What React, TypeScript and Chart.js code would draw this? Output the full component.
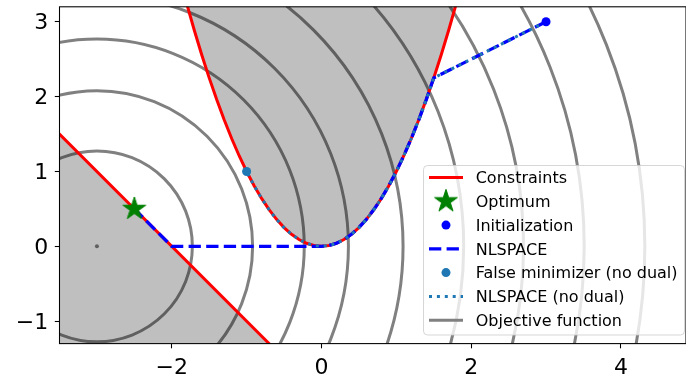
import React, { useEffect, useRef } from 'react';
import { Chart, registerables } from 'chart.js';

Chart.register(...registerables);

// ---- data ----
const parabolaX = [-1.8, -1.7, -1.6, -1.5, -1.4, -1.3, -1.2, -1.1, -1.0, -0.9, -0.8, -0.7, -0.6, -0.5, -0.4, -0.3, -0.2, -0.1, 0, 0.1, 0.2, 0.3, 0.4, 0.5, 0.6, 0.7, 0.8, 0.9, 1.0, 1.1, 1.2, 1.3, 1.4, 1.5, 1.6, 1.7, 1.8];
const parabolaY = [3.24, 2.89, 2.56, 2.25, 1.96, 1.69, 1.44, 1.21, 1.0, 0.81, 0.64, 0.49, 0.36, 0.25, 0.16, 0.09, 0.04, 0.01, 0, 0.01, 0.04, 0.09, 0.16, 0.25, 0.36, 0.49, 0.64, 0.81, 1.0, 1.21, 1.44, 1.69, 1.96, 2.25, 2.56, 2.89, 3.24];

const lineX = [-3.6, -0.6];
const lineY = [1.6, -1.4];

const nlspaceX = [3, 1.5, 1.4, 1.3, 1.2, 1.1, 1.0, 0.9, 0.8, 0.7, 0.6, 0.5, 0.4, 0.3, 0.2, 0.1, 0, -2, -2.5];
const nlspaceY = [3, 2.25, 1.96, 1.69, 1.44, 1.21, 1.0, 0.81, 0.64, 0.49, 0.36, 0.25, 0.16, 0.09, 0.04, 0.01, 0, 0, 0.5];

const noDualX = [3, 1.5, 1.4, 1.3, 1.2, 1.1, 1.0, 0.9, 0.8, 0.7, 0.6, 0.5, 0.4, 0.3, 0.2, 0.1, 0, -0.1, -0.2, -0.3, -0.4, -0.5, -0.6, -0.7, -0.8, -0.9, -1.0];
const noDualY = [3, 2.25, 1.96, 1.69, 1.44, 1.21, 1.0, 0.81, 0.64, 0.49, 0.36, 0.25, 0.16, 0.09, 0.04, 0.01, 0, 0.01, 0.04, 0.09, 0.16, 0.25, 0.36, 0.49, 0.64, 0.81, 1.0];

const optimumPoint = [-2.5, 0.5];
const initPoint = [3, 3];
const falseMinPoint = [-1, 1];
const objectiveCenter = [-3, 0];
const objectiveRadii = [1.275, 2.08, 2.77, 3.36, 4.09, 4.9, 5.7, 6.51, 7.32];

const xTicks = [-2, 0, 2, 4];
const yTicks = [-1, 0, 1, 2, 3];

const legendLabels = [
  'Constraints',
  'Optimum',
  'Initialization',
  'NLSPACE',
  'False minimizer (no dual)',
  'NLSPACE (no dual)',
  'Objective function',
];

const RED = '#ff0000';
const BLUE = '#0000ff';
const STEEL = '#1f77b4';
const GREEN = '#008000';
const GRAY = '#808080';
const SHADE = 'rgba(0,0,0,0.25)';
const FONT = '"DejaVu Sans", "Liberation Sans", sans-serif';

const pts = (xs: number[], ys: number[]) => xs.map((x, i) => ({ x, y: ys[i] }));

function makeStar(R: number, color: string) {
  const size = Math.ceil(R * 2 + 2);
  const c = document.createElement('canvas');
  c.width = size;
  c.height = size;
  const g = c.getContext('2d')!;
  const cx = size / 2;
  const cy = size / 2;
  const r = R * 0.381966;
  g.beginPath();
  for (let i = 0; i < 10; i++) {
    const rad = i % 2 === 0 ? R : r;
    const ang = -Math.PI / 2 + (i * Math.PI) / 5;
    const px = cx + rad * Math.cos(ang);
    const py = cy + rad * Math.sin(ang);
    if (i === 0) g.moveTo(px, py);
    else g.lineTo(px, py);
  }
  g.closePath();
  g.fillStyle = color;
  g.fill();
  g.strokeStyle = color;
  g.lineWidth = 1;
  g.stroke();
  return c;
}

const fmt = (v: number) => (v < 0 ? '\u2212' + Math.abs(v) : String(v));

export default function App() {
  const ref = useRef<HTMLCanvasElement | null>(null);

  useEffect(() => {
    document.body.style.margin = '0';
    const canvas = ref.current;
    if (!canvas) return;
    const star = makeStar(12, GREEN);

    const contourPlugin = {
      id: 'contours',
      beforeDatasetsDraw(chart: any) {
        const { ctx, chartArea: a } = chart;
        const xs = chart.scales.x;
        const ys = chart.scales.y;
        ctx.save();
        ctx.beginPath();
        ctx.rect(a.left, a.top, a.right - a.left, a.bottom - a.top);
        ctx.clip();
        const cx = xs.getPixelForValue(objectiveCenter[0]);
        const cy = ys.getPixelForValue(objectiveCenter[1]);
        ctx.strokeStyle = GRAY;
        ctx.lineWidth = 3;
        for (const r of objectiveRadii) {
          const rx = Math.abs(xs.getPixelForValue(objectiveCenter[0] + r) - cx);
          const ry = Math.abs(ys.getPixelForValue(objectiveCenter[1] + r) - cy);
          ctx.beginPath();
          ctx.ellipse(cx, cy, rx, ry, 0, 0, Math.PI * 2);
          ctx.stroke();
        }
        ctx.restore();
      },
    };

    const framePlugin = {
      id: 'frame',
      afterDatasetsDraw(chart: any) {
        const { ctx, chartArea: a } = chart;
        ctx.save();
        ctx.strokeStyle = '#000';
        ctx.lineWidth = 1.07;
        ctx.strokeRect(a.left, a.top, a.right - a.left, a.bottom - a.top);
        ctx.restore();
      },
    };

    const legendPlugin = {
      id: 'customLegend',
      afterDraw(chart: any) {
        const { ctx } = chart;
        const bx = 423.5, by = 165.5, bw = 261, bh = 169.5, br = 4;
        ctx.save();
        ctx.beginPath();
        ctx.moveTo(bx + br, by);
        ctx.lineTo(bx + bw - br, by);
        ctx.arcTo(bx + bw, by, bx + bw, by + br, br);
        ctx.lineTo(bx + bw, by + bh - br);
        ctx.arcTo(bx + bw, by + bh, bx + bw - br, by + bh, br);
        ctx.lineTo(bx + br, by + bh);
        ctx.arcTo(bx, by + bh, bx, by + bh - br, br);
        ctx.lineTo(bx, by + br);
        ctx.arcTo(bx, by, bx + br, by, br);
        ctx.closePath();
        ctx.fillStyle = 'rgba(255,255,255,0.8)';
        ctx.fill();
        ctx.strokeStyle = 'rgba(204,204,204,0.8)';
        ctx.lineWidth = 1;
        ctx.stroke();

        const x0 = 429, x1 = 463, xm = 446, xt = 475.7;
        const rowY = (i: number) => 177.5 + i * 23.78;
        const line = (i: number, color: string, w: number, dash: number[]) => {
          ctx.save();
          ctx.strokeStyle = color;
          ctx.lineWidth = w;
          ctx.lineCap = 'butt';
          ctx.setLineDash(dash);
          ctx.beginPath();
          ctx.moveTo(x0, rowY(i));
          ctx.lineTo(x1, rowY(i));
          ctx.stroke();
          ctx.restore();
        };
        const dot = (i: number, color: string, r: number) => {
          ctx.beginPath();
          ctx.arc(xm, rowY(i), r, 0, Math.PI * 2);
          ctx.fillStyle = color;
          ctx.fill();
        };
        line(0, RED, 3, []);
        ctx.drawImage(star, xm - star.width / 2, rowY(1) - star.height / 2);
        dot(2, BLUE, 4.5);
        line(3, BLUE, 3.3, [12.3, 5.3]);
        dot(4, STEEL, 4.5);
        line(5, STEEL, 3, [3, 4.9]);
        line(6, GRAY, 3, []);

        ctx.fillStyle = '#000';
        ctx.font = '16px ' + FONT;
        ctx.textAlign = 'left';
        ctx.textBaseline = 'alphabetic';
        legendLabels.forEach((t, i) => ctx.fillText(t, xt, rowY(i) + 5.8));
        ctx.restore();
      },
    };

    const chart = new Chart(canvas, {
      type: 'scatter',
      data: {
        datasets: [
          {
            label: 'Optimum',
            data: [{ x: optimumPoint[0], y: optimumPoint[1] }],
            pointStyle: star as any,
            pointRadius: 12,
            showLine: false,
            order: 1,
            clip: 0,
          },
          {
            label: 'Initialization',
            data: [{ x: initPoint[0], y: initPoint[1] }],
            pointRadius: 4.5,
            pointBackgroundColor: BLUE,
            pointBorderWidth: 0,
            showLine: false,
            order: 1,
            clip: 0,
          },
          {
            label: 'False minimizer (no dual)',
            data: [{ x: falseMinPoint[0], y: falseMinPoint[1] }],
            pointRadius: 4.5,
            pointBackgroundColor: STEEL,
            pointBorderWidth: 0,
            showLine: false,
            order: 1,
            clip: 0,
          },
          {
            label: 'NLSPACE (no dual)',
            data: pts(noDualX, noDualY),
            showLine: true,
            borderColor: STEEL,
            borderWidth: 3,
            borderDash: [3, 4.9],
            pointRadius: 0,
            tension: 0,
            fill: false,
            order: 2,
            clip: 0,
          },
          {
            label: 'NLSPACE',
            data: pts(nlspaceX, nlspaceY),
            showLine: true,
            borderColor: BLUE,
            borderWidth: 3.3,
            borderDash: [12.3, 5.3],
            pointRadius: 0,
            tension: 0,
            fill: false,
            order: 3,
            clip: 0,
          },
          {
            label: 'Constraints',
            data: pts(parabolaX, parabolaY),
            showLine: true,
            borderColor: RED,
            borderWidth: 3,
            backgroundColor: SHADE,
            pointRadius: 0,
            tension: 0,
            fill: 'end',
            order: 5,
            clip: 0,
          },
          {
            label: 'Constraint line',
            data: pts(lineX, lineY),
            showLine: true,
            borderColor: RED,
            borderWidth: 3,
            backgroundColor: SHADE,
            pointRadius: 0,
            tension: 0,
            fill: 'start',
            order: 5,
            clip: 0,
          },
          {
            label: 'Objective center',
            data: [{ x: objectiveCenter[0], y: objectiveCenter[1] }],
            pointRadius: 2,
            pointBackgroundColor: GRAY,
            pointBorderWidth: 0,
            showLine: false,
            order: 10,
            clip: 0,
          },
        ],
      },
      options: {
        responsive: false,
        animation: false,
        events: [],
        layout: { autoPadding: false, padding: { top: 6.8, left: 0, right: 0, bottom: 0 } },
        plugins: {
          legend: { display: false },
          tooltip: { enabled: false },
          title: { display: false },
        },
        scales: {
          x: {
            type: 'linear',
            min: -3.5,
            max: 4.87,
            grid: {
              display: true,
              drawOnChartArea: false,
              drawTicks: true,
              tickLength: 4.7,
              tickWidth: 1.07,
              tickColor: '#000',
            },
            border: { display: false },
            ticks: {
              color: '#000',
              font: { family: FONT, size: 22 },
              padding: 6.7,
              maxRotation: 0,
              callback: (v: any) => fmt(Number(v)),
            },
            afterBuildTicks: (s: any) => {
              s.ticks = xTicks.map((v) => ({ value: v }));
            },
            afterFit: (s: any) => {
              s.height = 33.4;
              s.paddingLeft = 0;
              s.paddingRight = 0;
              s.paddingTop = 0;
              s.paddingBottom = 0;
            },
          },
          y: {
            type: 'linear',
            min: -1.3,
            max: 3.2,
            grid: {
              display: true,
              drawOnChartArea: false,
              drawTicks: true,
              tickLength: 4.7,
              tickWidth: 1.07,
              tickColor: '#000',
            },
            border: { display: false },
            ticks: {
              color: '#000',
              font: { family: FONT, size: 22 },
              padding: 6.5,
              labelOffset: 2,
              callback: (v: any) => fmt(Number(v)),
            },
            afterBuildTicks: (s: any) => {
              s.ticks = yTicks.map((v) => ({ value: v }));
            },
            afterFit: (s: any) => {
              s.width = 59.5;
              s.paddingLeft = 0;
              s.paddingRight = 0;
              s.paddingTop = 0;
              s.paddingBottom = 0;
            },
          },
        },
      },
      plugins: [contourPlugin, framePlugin, legendPlugin],
    });

    return () => chart.destroy();
  }, []);

  return (
    <div style={{ width: 686, height: 377 }}>
      <canvas ref={ref} width={686} height={377} style={{ display: 'block' }} />
    </div>
  );
}
